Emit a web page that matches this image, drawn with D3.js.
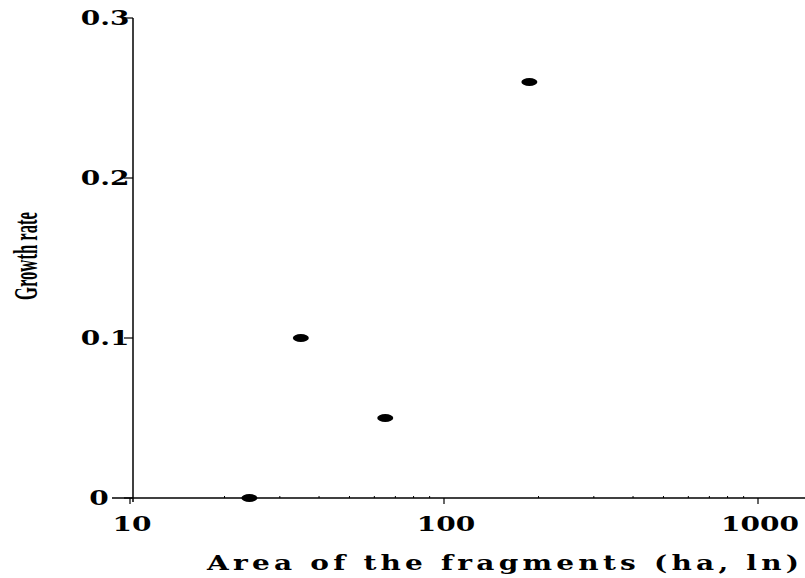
<!DOCTYPE html>
<html><head><meta charset="utf-8">
<script src="https://cdn.jsdelivr.net/npm/d3@7"></script>
<style>body{margin:0;background:#fff}</style>
</head><body>
<svg id="c" width="805" height="578"></svg>
<script>
const areas = [24, 35, 65, 187];
const growth = [0, 0.1, 0.05, 0.26];
const xTicks = [10, 100, 1000];
const yTicks = [0, 0.1, 0.2, 0.3];
const yTickLabels = ["0", "0.1", "0.2", "0.3"];
const xTitle = "Area of the fragments (ha, ln)";
const yTitle = "Growth rate";

const svg = d3.select("#c");
const x = d3.scaleLog().domain([10, 1000]).range([130, 758]);
const y = d3.scaleLinear().domain([0, 0.3]).range([498, 18]);
const wide = 1.4;

// axes lines
svg.append("line").attr("x1", 112).attr("x2", 805).attr("y1", y(0)).attr("y2", y(0))
  .attr("stroke", "#000").attr("stroke-width", 1.3);
svg.append("line").attr("x1", 133).attr("x2", 133).attr("y1", y(0.3)).attr("y2", y(0) + 4)
  .attr("stroke", "#000").attr("stroke-width", 1.5);

// y ticks
yTicks.forEach((t, i) => {
  svg.append("line").attr("x1", 124).attr("x2", 133).attr("y1", y(t)).attr("y2", y(t))
    .attr("stroke", "#000").attr("stroke-width", 1.2);
  const cx = t === 0 ? 99 : 105;
  svg.append("text")
    .attr("transform", `translate(${cx},${y(t)}) scale(${wide},1)`)
    .attr("dy", "0.36em")
    .attr("text-anchor", "middle")
    .attr("font-family", "DejaVu Serif").attr("font-weight", "bold").attr("font-size", 20)
    .text(yTickLabels[i]);
});

// x ticks
const minor = [];
[10, 100].forEach(d => { for (let k = 2; k <= 9; k++) minor.push(d * k); });
minor.forEach(m => {
  svg.append("line").attr("x1", x(m)).attr("x2", x(m)).attr("y1", y(0) - 2).attr("y2", y(0))
    .attr("stroke", "#000").attr("stroke-width", 1);
});
xTicks.forEach(t => {
  svg.append("line").attr("x1", x(t)).attr("x2", x(t)).attr("y1", y(0)).attr("y2", y(0) + 6)
    .attr("stroke", "#000").attr("stroke-width", 1.2);
  svg.append("text")
    .attr("transform", `translate(${x(t) + 2},531) scale(${wide},1)`)
    .attr("text-anchor", "middle")
    .attr("font-family", "DejaVu Serif").attr("font-weight", "bold").attr("font-size", 20)
    .text(t);
});

// points
svg.selectAll("ellipse.pt").data(areas).enter().append("ellipse")
  .attr("class", "pt")
  .attr("cx", d => x(d))
  .attr("cy", (d, i) => y(growth[i]))
  .attr("rx", 8).attr("ry", 4).attr("fill", "#000");

// titles
svg.append("text")
  .attr("transform", `translate(503,570) scale(${wide},1)`)
  .attr("text-anchor", "middle")
  .attr("font-family", "DejaVu Serif").attr("font-weight", "bold").attr("font-size", 20)
  .attr("textLength", 592 / wide).attr("lengthAdjust", "spacing")
  .text(xTitle);

svg.append("text").attr("transform", "translate(37,256) rotate(-90)")
  .attr("text-anchor", "middle")
  .attr("font-family", "Liberation Serif").attr("font-weight", "bold").attr("font-size", 34)
  .attr("textLength", 88).attr("lengthAdjust", "spacingAndGlyphs")
  .text(yTitle);
</script>
</body></html>
